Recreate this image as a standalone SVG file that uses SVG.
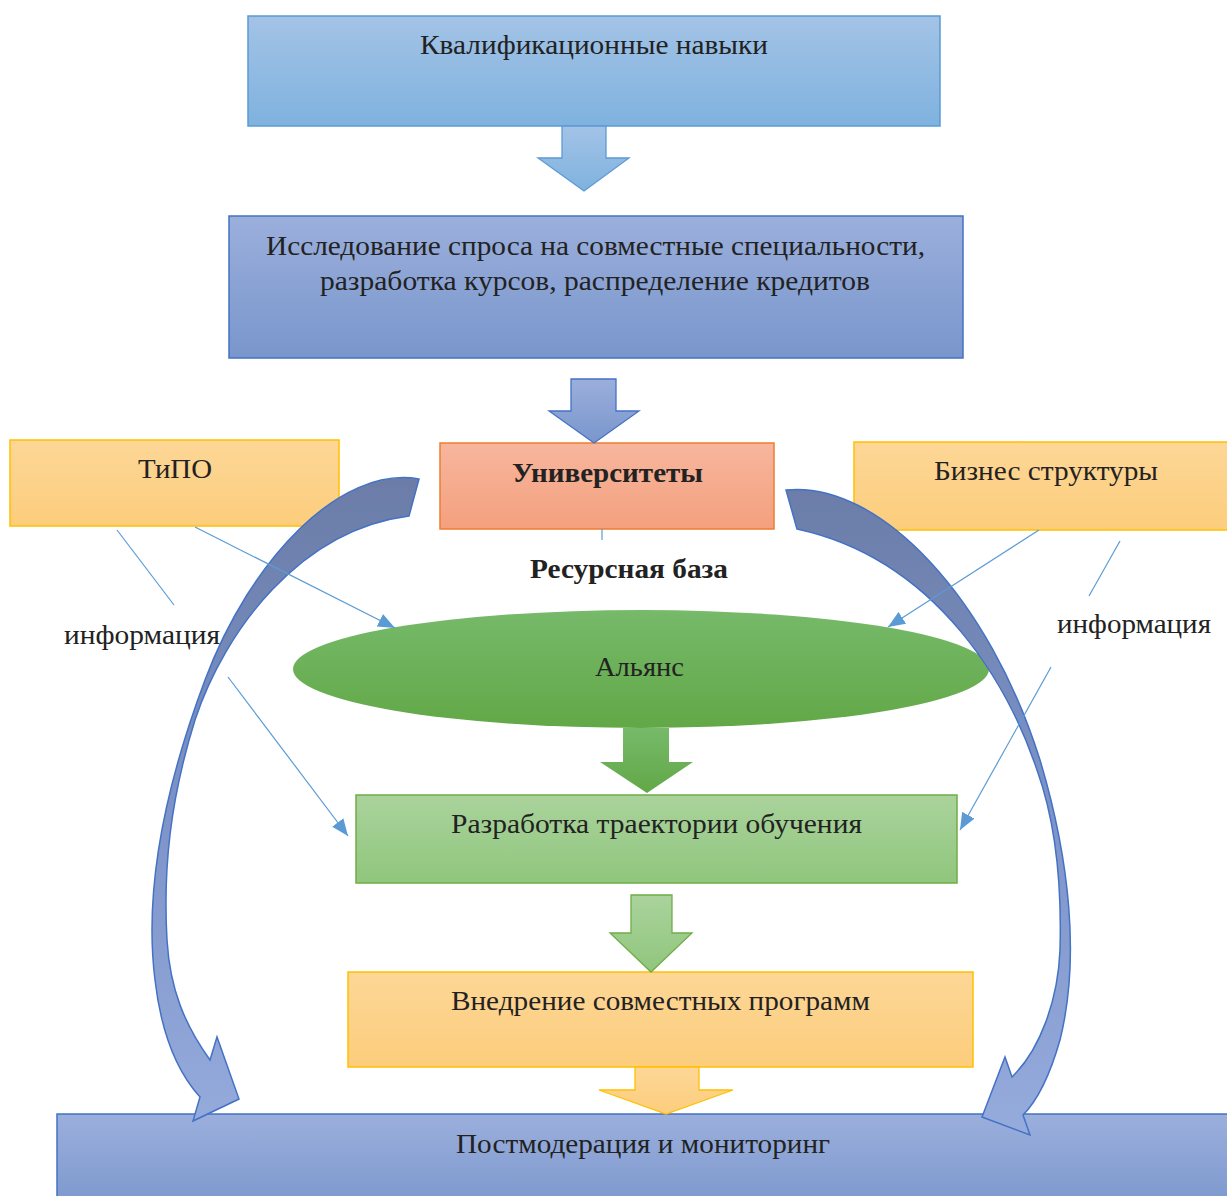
<svg xmlns="http://www.w3.org/2000/svg" width="1227" height="1196" viewBox="0 0 1227 1196">
<defs>
<linearGradient id="gBlue1" x1="0" y1="0" x2="0" y2="1"><stop offset="0" stop-color="#a3c3e6"/><stop offset="1" stop-color="#7fb2df"/></linearGradient>
<linearGradient id="gBlue2" x1="0" y1="0" x2="0" y2="1"><stop offset="0" stop-color="#9bafdc"/><stop offset="1" stop-color="#7996cc"/></linearGradient>
<linearGradient id="gSalmon" x1="0" y1="0" x2="0" y2="1"><stop offset="0" stop-color="#f7b69d"/><stop offset="1" stop-color="#f4a07e"/></linearGradient>
<linearGradient id="gOrange" x1="0" y1="0" x2="0" y2="1"><stop offset="0" stop-color="#fdd797"/><stop offset="1" stop-color="#fccd7c"/></linearGradient>
<linearGradient id="gGreen" x1="0" y1="0" x2="0" y2="1"><stop offset="0" stop-color="#76ba6a"/><stop offset="1" stop-color="#62a847"/></linearGradient>
<linearGradient id="gGreenL" x1="0" y1="0" x2="0" y2="1"><stop offset="0" stop-color="#aad39c"/><stop offset="1" stop-color="#90c67d"/></linearGradient>
<linearGradient id="gCurve" gradientUnits="userSpaceOnUse" x1="0" y1="470" x2="0" y2="1130"><stop offset="0" stop-color="#6a7ca6"/><stop offset="0.5" stop-color="#7d93c8"/><stop offset="1" stop-color="#95abdc"/></linearGradient>
<marker id="ah" markerUnits="userSpaceOnUse" markerWidth="17" markerHeight="14" refX="17" refY="7" orient="auto"><path d="M0,0 L17,7 L0,14 z" fill="#5b9bd5"/></marker>
<style>
.t{font-family:"Liberation Serif","Times New Roman",serif;font-size:28px;fill:#222;text-anchor:middle}
.b{font-weight:bold}
.thin{stroke:#5b9bd5;stroke-width:1.2;fill:none}
.curve{fill:url(#gCurve);stroke:#4472c4;stroke-width:1.5}
</style>
</defs>

<g id="node-skills"><rect x="248" y="16" width="692" height="110" fill="url(#gBlue1)" stroke="#5b9bd5" stroke-width="1.5"/><text class="t" x="594" y="54" textLength="348" lengthAdjust="spacingAndGlyphs">Квалификационные навыки</text></g>

<g id="node-research"><rect x="229" y="216" width="734" height="142" fill="url(#gBlue2)" stroke="#4472c4" stroke-width="1.5"/><text class="t" x="595.5" y="255" textLength="659" lengthAdjust="spacingAndGlyphs">Исследование спроса на совместные специальности,</text><text class="t" x="595" y="290" textLength="550" lengthAdjust="spacingAndGlyphs">разработка курсов, распределение кредитов</text></g>

<g id="node-tipo"><rect x="10" y="440" width="329" height="86" fill="url(#gOrange)" stroke="#ffc000" stroke-width="1.5"/><text class="t" x="175" y="478" textLength="74" lengthAdjust="spacingAndGlyphs">ТиПО</text></g>

<g id="node-univ"><rect x="440" y="443" width="334" height="86" fill="url(#gSalmon)" stroke="#ed7d31" stroke-width="1.5"/><text class="t b" x="607.5" y="482" textLength="191" lengthAdjust="spacingAndGlyphs">Университеты</text></g>

<g id="node-business"><rect x="854" y="442" width="380" height="88" fill="url(#gOrange)" stroke="#ffc000" stroke-width="1.5"/><text class="t" x="1046" y="480" textLength="224" lengthAdjust="spacingAndGlyphs">Бизнес структуры</text></g>

<g id="label-resource"><text class="t b" x="629" y="578" textLength="198" lengthAdjust="spacingAndGlyphs">Ресурсная база</text></g>

<g id="node-alliance"><ellipse cx="641" cy="669" rx="348" ry="59" fill="url(#gGreen)"/><text class="t" x="639.5" y="676" textLength="89" lengthAdjust="spacingAndGlyphs">Альянс</text></g>

<g id="node-trajectory"><rect x="356" y="795" width="601" height="88" fill="url(#gGreenL)" stroke="#70ad47" stroke-width="1.5"/><text class="t" x="656.5" y="833" textLength="411" lengthAdjust="spacingAndGlyphs">Разработка траектории обучения</text></g>

<g id="node-implement"><rect x="348" y="972" width="625" height="95" fill="url(#gOrange)" stroke="#ffc000" stroke-width="1.5"/><text class="t" x="660.5" y="1010" textLength="419" lengthAdjust="spacingAndGlyphs">Внедрение совместных программ</text></g>

<g id="node-monitoring"><rect x="57" y="1114" width="1180" height="100" fill="url(#gBlue2)" stroke="#4472c4" stroke-width="1.5"/><text class="t" x="643" y="1153" textLength="374" lengthAdjust="spacingAndGlyphs">Постмодерация и мониторинг</text></g>

<g id="connectors">
<path d="M562,126 L606,126 L606,158 L629,158 L584,191 L538,158 L562,158 Z" fill="url(#gBlue1)" stroke="#5b9bd5" stroke-width="1.3"/>
<path d="M571,379 L616,379 L616,411 L639,411 L594,443 L549,411 L571,411 Z" fill="url(#gBlue2)" stroke="#4472c4" stroke-width="1.3"/>
<path d="M623,728 L669,728 L669,762 L693,762 L647,793 L600,762 L623,762 Z" fill="url(#gGreen)"/>
<path d="M631,895 L672,895 L672,933 L692,933 L651,972 L610,933 L631,933 Z" fill="url(#gGreenL)" stroke="#70ad47" stroke-width="1.3"/>
<path d="M635,1067 L699,1067 L699,1090 L733,1090 L666,1114 L599,1090 L635,1090 Z" fill="url(#gOrange)" stroke="#ffc000" stroke-width="1.3"/>

<path class="curve" d="M419,479 C340,465 250,560 205,680 C160,800 145,900 155,980 C162,1040 180,1075 200,1097 L193,1121 L239,1099 L217,1037 L210,1060 C185,1025 170,990 167,940 C163,870 170,800 195,720 C225,630 300,530 409,516 Z"/>
<path class="curve" d="M786,490 C880,480 990,600 1040,760 C1070,860 1080,960 1060,1040 C1050,1075 1038,1100 1023,1115 L1030,1135 L982,1117 L1005,1057 L1012,1077 C1040,1050 1058,1000 1060,950 C1062,880 1055,820 1037,770 C1010,690 940,560 797,529 Z"/>

<line class="thin" x1="602" y1="529" x2="602" y2="540"/>
<line class="thin" x1="195" y1="527" x2="395" y2="628" marker-end="url(#ah)"/>
<line class="thin" x1="117" y1="530" x2="174" y2="605"/>
<line class="thin" x1="228" y1="677" x2="348" y2="836" marker-end="url(#ah)"/>
<line class="thin" x1="1039" y1="530" x2="888" y2="627" marker-end="url(#ah)"/>
<line class="thin" x1="1120" y1="541" x2="1089" y2="596"/>
<line class="thin" x1="1051" y1="667" x2="960" y2="830" marker-end="url(#ah)"/>
</g>

<g id="label-info-left"><text class="t" x="142" y="644" textLength="156" lengthAdjust="spacingAndGlyphs">информация</text></g>
<g id="label-info-right"><text class="t" x="1134" y="633" textLength="154" lengthAdjust="spacingAndGlyphs">информация</text></g>
</svg>
